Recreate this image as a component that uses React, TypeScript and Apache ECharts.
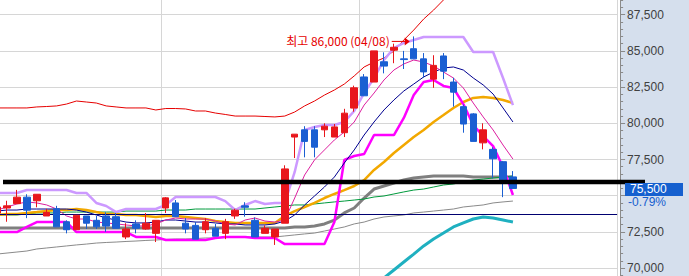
import React, { useEffect, useRef } from "react";
import * as echarts from "echarts";

// ---- data (KRW) ----
const categories = Array.from({ length: 63 }, (_, i) => `D${i + 1}`);

const opens = [73800,74150,74450,74900,74650,73600,74100,73200,72650,73600,73300,73600,73550,72150,73050,72700,72400,74150,74500,73100,72950,72650,72750,72400,73600,74300,73300,72400,72150,73100,79050,79550,79550,79550,79050,79350,81050,83200,82850,84250,85050,84450,85150,84450,83050,84650,82850,81150,80650,78650,78200,77350,76300];
const closes = [74220,74300,74900,74000,75100,73850,72850,72650,73650,73100,72850,72900,72750,72700,72750,73100,73300,74850,73550,72700,72000,73200,72200,73200,74000,74200,72150,72750,72700,76850,79250,78750,78350,79800,79750,80700,82450,81900,85000,83950,85250,84400,84450,83550,84000,83600,82150,79950,78750,79550,77550,76100,75500];
const lows = [73800,73200,74450,73450,74200,73600,72850,72400,72650,72700,72700,72500,72750,72000,72400,72650,71800,73800,73550,72400,72000,72400,72200,72000,73400,73550,72150,72400,71600,73100,77600,77650,77650,79050,79050,79050,80800,81900,82850,83450,84150,83750,84450,83150,82450,83050,81150,79350,78750,78200,76200,74900,75500];
const highs = [74220,74650,75400,75100,75100,74100,74300,73300,73650,73600,73600,73850,73800,73100,73300,73800,73300,74900,74700,73450,73200,73450,73050,73400,74100,74550,73500,72950,72700,77100,79250,79800,79800,80000,79950,81000,82600,83400,85000,84900,85500,85000,86000,84850,84700,84850,83150,81300,80700,80000,78350,77400,76700];

const upperBand = [81060,81060,81060,81060,81130,81160,81200,81330,81540,81470,81400,81200,81130,81060,81060,81060,80920,81020,81020,80990,80850,80850,80710,80610,80500,80500,80500,80470,80440,80500,80780,81200,81540,81950,82300,82710,83270,83890,84230,84510,84990,85750,86440,87200,87820,88520,89210,89830,90450,91070,91690,92310,92940];
const highChannel = [75190,75190,75190,75390,75390,75390,75390,75390,75190,75190,74500,74290,73870,74080,74080,74080,74080,74360,74910,74910,74910,74910,74910,74630,74010,74360,74630,74430,74500,74500,76640,79540,79740,79880,79880,80090,80850,82090,83130,84370,85200,85550,85750,85960,85960,85960,85960,85960,84920,84920,84920,83130,81260];
const lowChannel = [72490,72490,72490,72840,73180,73180,73180,73180,72490,72490,72490,72490,72490,72490,72150,72150,72150,71940,71940,71940,71940,71940,72080,72150,72150,72150,72080,72080,72080,71660,71660,71660,71660,71660,73180,77470,77740,77880,79190,79190,79190,80370,81950,82850,82990,82580,82440,81330,79880,79120,78430,76980,75050];
const ma5 = [74010,74220,74430,74570,74500,74360,74080,73600,73390,73390,73180,73120,73050,72980,72910,72910,73050,73320,73460,73390,73390,73390,73250,73050,72980,73320,73460,73250,73180,73320,74840,76430,77470,78160,78850,79400,80090,81260,82090,82990,83680,84100,84370,84230,83960,83540,83130,82440,81400,80440,79540,78500,77530];
const ma10 = [73940,74010,74010,74080,74080,74080,74080,74080,74010,73870,73670,73460,73320,73180,73120,73120,73180,73320,73320,73250,73180,73180,73120,73050,73050,72980,72980,72980,73050,73250,73670,74360,74980,75600,76290,77260,78160,79190,80090,80920,81610,82230,82710,83200,83540,83820,83890,83680,83130,82650,82020,81060,80090];
const ma20 = [73670,73740,73740,73810,73870,73940,74010,74010,74080,74010,73870,73740,73740,73670,73670,73600,73530,73600,73600,73530,73460,73390,73250,73180,73120,73120,73120,73120,73120,73600,73940,74220,74500,74840,75120,75390,75670,76080,76780,77330,77950,78500,79050,79540,80090,80570,81060,81470,81750,81820,81750,81610,81400];
const ma60 = [73670,73670,73670,73740,73810,73810,73810,73870,73870,73870,73870,73870,73870,73940,73940,73940,73940,74010,74010,74010,74080,74080,74080,74080,74080,74080,74080,74150,74220,74290,74360,74360,74430,74500,74570,74630,74700,74770,74910,74980,75120,75260,75390,75460,75600,75740,75810,75950,76080,76150,76220,76290,76360];
const ma120 = [72770,72770,72770,72770,72770,72770,72770,72770,72770,72770,72770,72770,72770,72770,72770,72770,72770,72770,72770,72770,72770,72770,72770,72770,72770,72770,72770,72770,72770,72770,72840,72840,72910,73050,73320,73810,74150,74840,75460,75670,75880,76080,76220,76290,76360,76360,76360,76360,76290,76290,76290,76290,76290];
const ma240 = [70970,71040,71110,71180,71320,71390,71460,71530,71600,71660,71730,71770,71800,71840,71870,71910,71940,71980,72010,72010,72040,72080,72080,72110,72150,72150,72150,72150,72150,72220,72290,72360,72420,72560,72700,72840,73050,73180,73390,73530,73600,73670,73810,73870,73940,74010,74080,74220,74290,74360,74500,74570,74630];
const teal = [null,null,null,null,null,null,null,null,null,null,null,null,null,null,null,null,null,null,null,null,null,null,null,null,null,null,null,null,null,null,null,null,null,null,null,null,null,null,68830,69320,69870,70420,70970,71530,72010,72420,72840,73120,73390,73530,73460,73320,73180];

const baseLine = 73750;
const trendLevel = 75950;
const highIndex = 42;
const highValue = 86000;
const highLabel = "최고 86,000 (04/08)";
const lastPrice = 75500;
const changeLabel = "-0.79%";
const monthStarts = [17, 37];
const visibleMin = 70000;
const visibleMax = 87500;
const hiddenTick = 75000; // covered by the last-price box in the reference

const RED = "#e8161c";
const BLUE = "#1a5fd2";
const AXIS_FONT = '"Liberation Sans", Arial, sans-serif';

export default function App() {
  const ref = useRef<HTMLDivElement>(null);
  useEffect(() => {
    const chart = echarts.init(ref.current!, null, { renderer: "svg", width: 689, height: 276 });
    const ln = (name: string, data: any[], color: string, width: number, z = 2) => ({
      name, type: "line", data, symbol: "none", showSymbol: false, silent: true,
      lineStyle: { color, width }, itemStyle: { color }, z, connectNulls: false,
    });
    const ohlc = opens.map((o, i) => [o, closes[i], lows[i], highs[i]]);
    chart.setOption({
      animation: false,
      grid: { left: -7.86, right: 71.9, top: -21.5, bottom: -28.3, containLabel: false, outerBoundsMode: "none" },
      xAxis: {
        type: "category", data: categories, boundaryGap: true,
        axisLine: { show: false }, axisTick: { show: false }, axisLabel: { show: false },
        splitLine: { show: true, interval: (i: number) => monthStarts.includes(i), lineStyle: { color: "#d6d6d6", width: 1 } },
      },
      yAxis: {
        type: "value", position: "right", offset: 3, min: 67500, max: 90000, interval: 2500,
        axisLine: { show: true, lineStyle: { color: "#8a8a8a", width: 1 } },
        axisTick: { show: true, length: 5, lineStyle: { color: "#8a8a8a" } },
        minorTick: { show: true, splitNumber: 5, length: 3, lineStyle: { color: "#8a8a8a" } },
        axisLabel: { margin: 7, fontSize: 12, fontFamily: AXIS_FONT, color: "#404040",
          formatter: (v: number) =>
            v === hiddenTick || v < visibleMin || v > visibleMax ? "" : v.toLocaleString("en-US") },
        splitLine: { show: true, lineStyle: { color: "#d6d6d6", width: 1 } },
      },
      series: [
        ln("upper", upperBand, "#e60000", 1),
        ln("ma240", ma240, "#8a8a8a", 1),
        { ...ln("ma120", ma120, "#7f7f7f", 3),
          markLine: { symbol: "none", silent: true, label: { show: false },
            lineStyle: { color: "#000070", width: 1, type: "solid" }, data: [{ yAxis: baseLine }] } },
        ln("teal", teal, "#1fb0c0", 3),
        ln("ma60", ma60, "#009a3c", 1),
        ln("ma20", ma20, "#f2a800", 2.5),
        ln("highCh", highChannel, "#cc99ff", 2.5),
        ln("lowCh", lowChannel, "#ff00ff", 2.5),
        ln("ma10", ma10, "#000090", 1),
        ln("ma5", ma5, "#dd1fa0", 1),
        { type: "candlestick", data: ohlc, barWidth: 7, silent: true, z: 5,
          itemStyle: { color: RED, color0: BLUE, borderColor: RED, borderColor0: BLUE, borderWidth: 1 } },
      ],
    });
    const yb = chart.convertToPixel({ yAxisIndex: 0 }, trendLevel) as unknown as number;
    const hp = chart.convertToPixel({ gridIndex: 0 }, [highIndex, highValue]) as unknown as number[];
    const hx = hp[0], hy = hp[1];
    const yl = chart.convertToPixel({ yAxisIndex: 0 }, lastPrice) as unknown as number;
    chart.setOption({
      graphic: [
        { type: "line", z: 100, shape: { x1: 3, y1: yb, x2: 645, y2: yb }, style: { stroke: "#000", lineWidth: 4.5 } },
        { type: "text", z: 100, x: hx - 24, y: hy + 4,
          style: { text: highLabel, fill: "#e60000", fontSize: 12, fontFamily: '"Noto Sans CJK KR", sans-serif', align: "right", verticalAlign: "middle" } },
        { type: "line", z: 100, shape: { x1: hx - 22, y1: hy + 5, x2: hx - 8, y2: hy + 5 }, style: { stroke: "#e60000", lineWidth: 1 } },
        { type: "polygon", z: 100, shape: { points: [[hx - 9, hy + 1], [hx - 4, hy + 5], [hx - 9, hy + 9]] }, style: { fill: "#e60000" } },
        { type: "rect", z: 110, shape: { x: 625, y: yl - 5.5, width: 58, height: 13 }, style: { fill: "#1560cf" } },
        { type: "text", z: 111, x: 630, y: yl + 1, style: { text: lastPrice.toLocaleString("en-US"), fill: "#fff", fontSize: 12, fontFamily: AXIS_FONT, align: "left", verticalAlign: "middle" } },
        { type: "text", z: 111, x: 628, y: yl + 14, style: { text: changeLabel, fill: "#1560cf", fontSize: 12, fontFamily: AXIS_FONT, align: "left", verticalAlign: "middle" } },
      ],
    });
    return () => chart.dispose();
  }, []);
  return (
    <div style={{ position: "fixed", left: 0, top: 0, width: 689, height: 276, overflow: "hidden",
      background: "linear-gradient(to right, #ffffff 0px, #ffffff 620px, #d5dfed 620px, #d5dfed 100%)" }}>
      <div ref={ref} style={{ width: 689, height: 276 }} />
    </div>
  );
}
